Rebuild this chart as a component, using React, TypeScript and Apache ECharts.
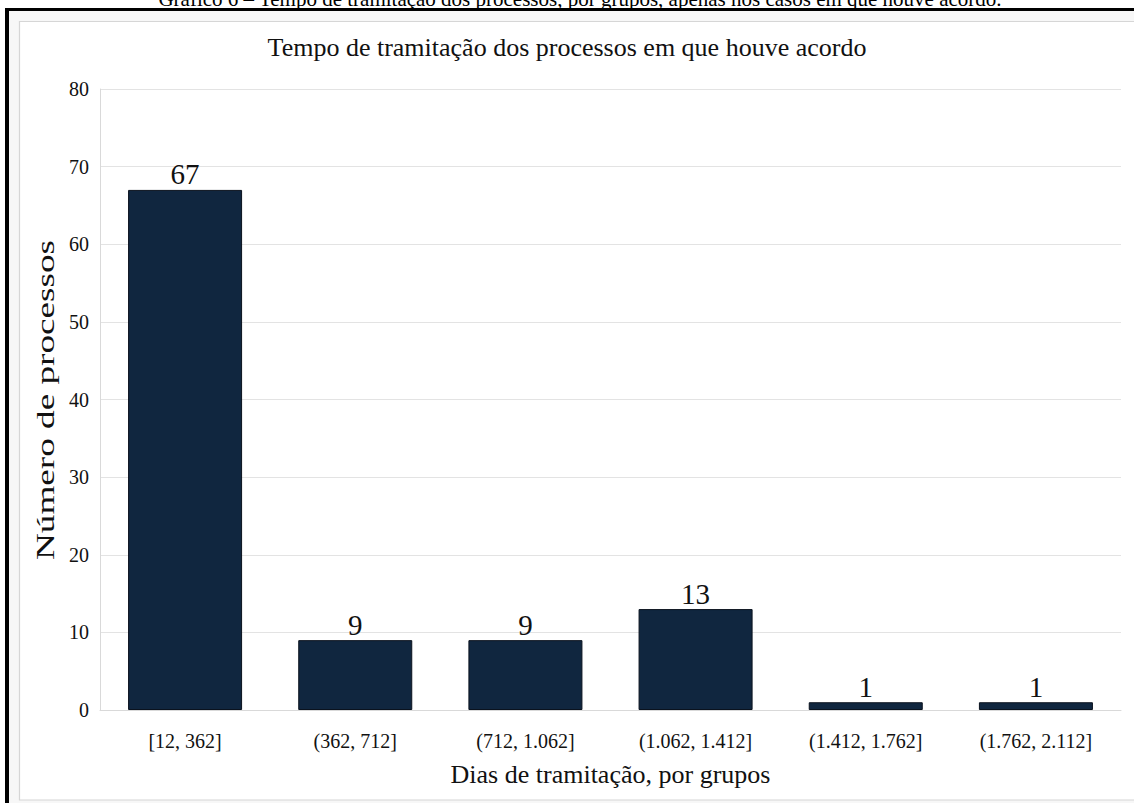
import React, { useEffect, useRef } from "react";
import * as echarts from "echarts";

const categories = ["[12, 362]", "(362, 712]", "(712, 1.062]", "(1.062, 1.412]", "(1.412, 1.762]", "(1.762, 2.112]"];
const counts = [67, 9, 9, 13, 1, 1];
const chartTitle = "Tempo de tramitação dos processos em que houve acordo";
const caption = "Gráfico 6 – Tempo de tramitação dos processos, por grupos, apenas nos casos em que houve acordo.";
const xTitle = "Dias de tramitação, por grupos";
const yTitle = "Número de processos";

const FONT = "'Liberation Serif', 'Times New Roman', serif";

export default function App() {
  const ref = useRef<HTMLDivElement>(null);
  useEffect(() => {
    if (!ref.current) return;
    const chart = echarts.init(ref.current, undefined, { renderer: "svg" });
    chart.setOption({
      animation: false,
      backgroundColor: "#ffffff",
      textStyle: { fontFamily: FONT, color: "#111" },
      graphic: [
        { type: "rect", z: -20, silent: true, shape: { x: 5, y: 8, width: 1200, height: 820 }, style: { fill: "#f7f7f7" } },
        { type: "rect", z: -19, silent: true, shape: { x: 19.5, y: 21.5, width: 1200, height: 778.5 }, style: { fill: "#ffffff", stroke: "#d6d6d6", lineWidth: 1.2 } },
        { type: "text", z: -18, silent: true, x: 580, y: 9, style: { text: caption, font: `21px ${FONT}`, fill: "#000", align: "center", verticalAlign: "bottom" } },
        { type: "line", z: -17, silent: true, shape: { x1: 5, y1: 9.5, x2: 1134, y2: 9.5 }, style: { stroke: "#000", lineWidth: 3 } },
        { type: "line", z: -17, silent: true, shape: { x1: 7, y1: 8, x2: 7, y2: 803 }, style: { stroke: "#000", lineWidth: 4 } },
        {
          type: "text",
          silent: true,
          x: 45,
          y: 400,
          rotation: Math.PI / 2,
          scaleX: 1.43,
          style: { text: yTitle, font: `26px ${FONT}`, fill: "#111", align: "center", verticalAlign: "middle" },
        },
      ],
      title: {
        text: chartTitle,
        left: "center",
        top: 29,
        textStyle: { fontFamily: FONT, fontSize: 26, fontWeight: "normal", color: "#111" },
      },
      grid: { left: 100, right: 13, top: 89, bottom: 93, containLabel: false },
      xAxis: {
        type: "category",
        data: categories,
        name: xTitle,
        nameLocation: "middle",
        nameGap: 51,
        nameTextStyle: { fontFamily: FONT, fontSize: 26, color: "#111" },
        axisLine: { show: true, lineStyle: { color: "#d9d9d9", width: 1 } },
        axisTick: { show: false },
        axisLabel: { fontFamily: FONT, fontSize: 20, color: "#111", margin: 21 },
      },
      yAxis: {
        type: "value",
        min: 0,
        max: 80,
        interval: 10,
        axisLine: { show: true, lineStyle: { color: "#d9d9d9", width: 1 } },
        axisTick: { show: false },
        axisLabel: { fontFamily: FONT, fontSize: 20, color: "#111", margin: 11 },
        splitLine: { show: true, lineStyle: { color: "#e3e3e3", width: 1 } },
      },
      series: [
        {
          type: "bar",
          data: counts,
          barWidth: "67%",
          itemStyle: { color: "#10263f", borderColor: "#0a121e", borderWidth: 1 },
          label: { show: true, position: "top", distance: 1, fontFamily: FONT, fontSize: 29, color: "#111" },
        },
      ],
    });
    return () => chart.dispose();
  }, []);
  return <div ref={ref} style={{ position: "absolute", left: 0, top: 0, width: 1134, height: 803 }} />;
}
